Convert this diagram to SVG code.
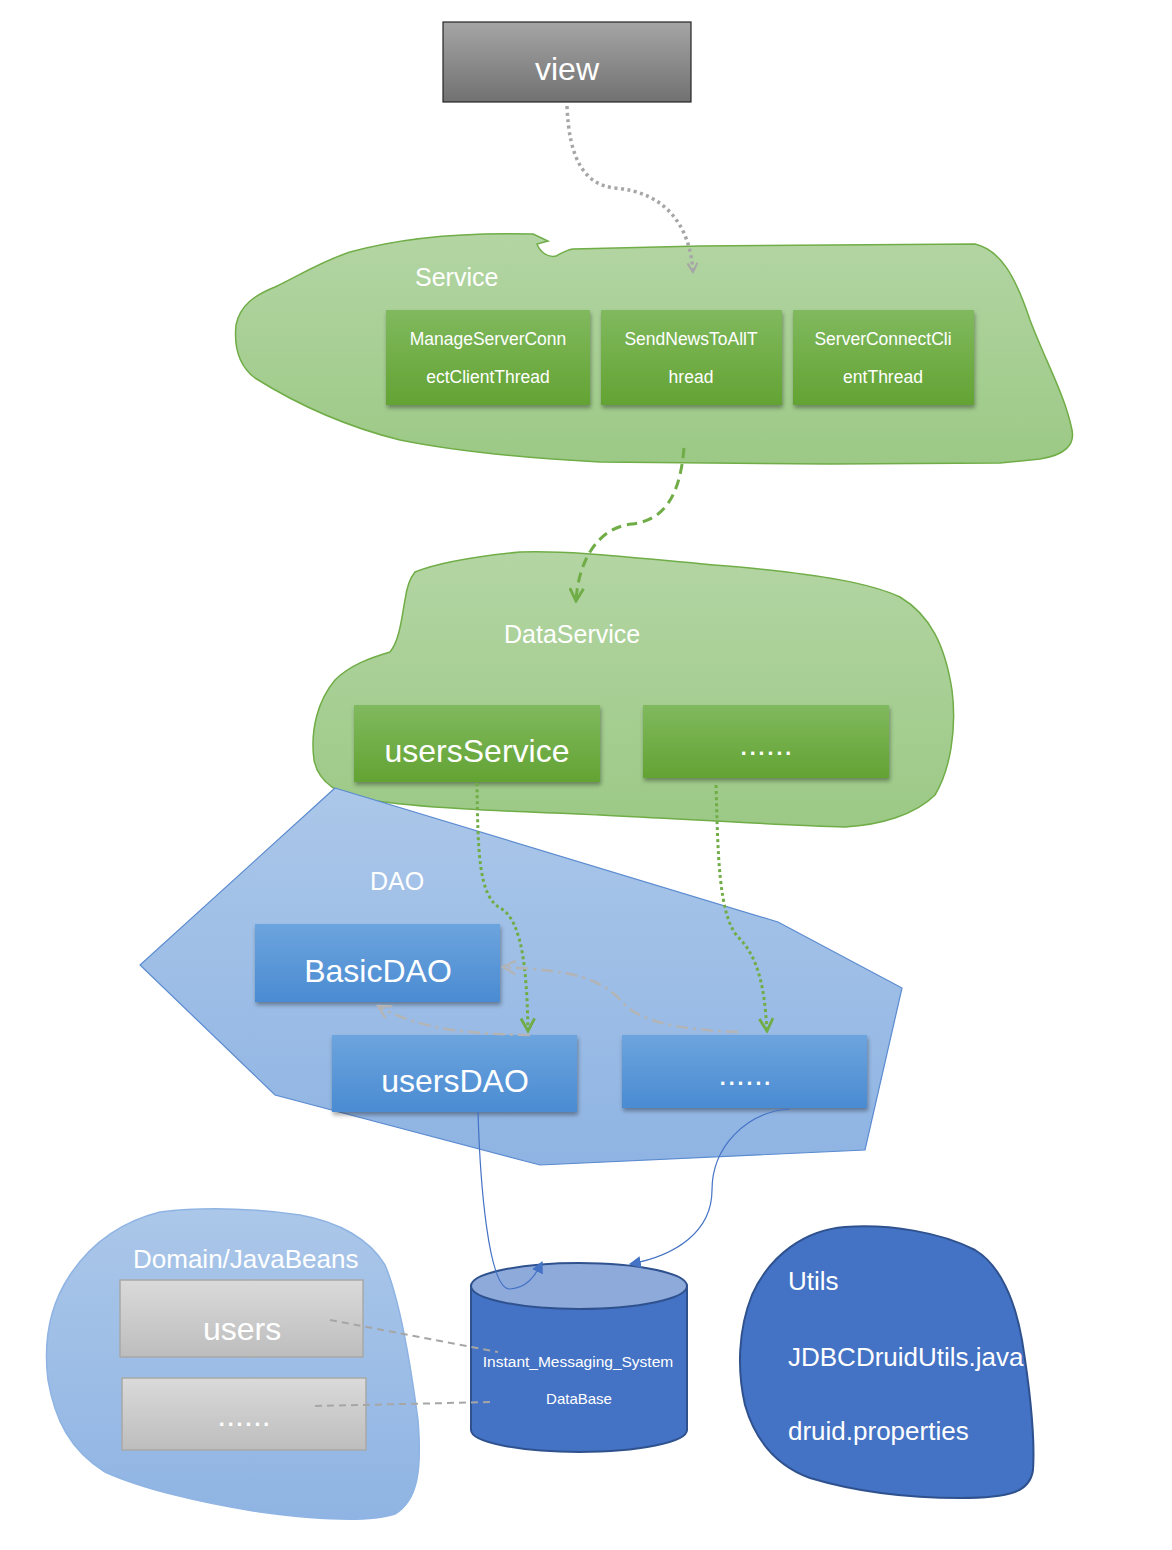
<svg xmlns="http://www.w3.org/2000/svg" width="1172" height="1550" viewBox="0 0 1172 1550">
<defs>
<linearGradient id="gGreen" x1="0" y1="0" x2="0" y2="1"><stop offset="0" stop-color="#80b95e"/><stop offset="1" stop-color="#63a333"/></linearGradient>
<linearGradient id="gBlue" x1="0" y1="0" x2="0" y2="1"><stop offset="0" stop-color="#6ca4de"/><stop offset="1" stop-color="#4a8bd2"/></linearGradient>
<linearGradient id="gGray" x1="0" y1="0" x2="0" y2="1"><stop offset="0" stop-color="#dadada"/><stop offset="1" stop-color="#bdbdbd"/></linearGradient>
<linearGradient id="gView" x1="0" y1="0" x2="0" y2="1"><stop offset="0" stop-color="#a5a5a5"/><stop offset="1" stop-color="#717171"/></linearGradient>
<linearGradient id="gBlobG" x1="0" y1="0" x2="0" y2="1"><stop offset="0" stop-color="#b3d5a3"/><stop offset="1" stop-color="#9cc986"/></linearGradient>
<linearGradient id="gBlobB" x1="0" y1="0" x2="0" y2="1"><stop offset="0" stop-color="#abc7e9"/><stop offset="1" stop-color="#8fb4e3"/></linearGradient>
<filter id="sh" x="-10%" y="-10%" width="130%" height="140%"><feDropShadow dx="1" dy="3" stdDeviation="2" flood-color="#000" flood-opacity="0.35"/></filter>
<marker id="mGray" viewBox="0 0 12 12" refX="10" refY="6" markerWidth="12" markerHeight="12" markerUnits="userSpaceOnUse" orient="auto"><path d="M1,1 L10,6 L1,11" fill="none" stroke="#a6a6a6" stroke-width="2"/></marker>
<marker id="mGreen" viewBox="0 0 14 14" refX="12" refY="7" markerWidth="16" markerHeight="16" markerUnits="userSpaceOnUse" orient="auto"><path d="M1,1 L12,7 L1,13" fill="none" stroke="#70ad47" stroke-width="2.5"/></marker>
<marker id="mLGray" viewBox="0 0 14 14" refX="12" refY="7" markerWidth="16" markerHeight="16" markerUnits="userSpaceOnUse" orient="auto"><path d="M1,1 L12,7 L1,13" fill="none" stroke="#b4b4b4" stroke-width="2"/></marker>
<marker id="mBlue" viewBox="0 0 10 10" refX="9" refY="5" markerWidth="12" markerHeight="12" markerUnits="userSpaceOnUse" orient="auto"><path d="M0,0 L10,5 L0,10 z" fill="#4472c4"/></marker>
</defs>
<style>
text{font-family:"Liberation Sans",Arial,sans-serif;fill:#fff;text-anchor:middle}
.lab{font-size:25px;text-anchor:start}
.lab2{font-size:26px;text-anchor:start}
.big{font-size:32px}
.sm{font-size:17.5px}
.gbox{fill:url(#gGreen);filter:url(#sh)}
.bbox{fill:url(#gBlue);filter:url(#sh)}
.grbox{fill:url(#gGray);stroke:#a8a8a8;stroke-width:1.5}
</style>
<rect width="1172" height="1550" fill="#fff"/>

<g id="service-group">
<path d="M533,234 L548,241 L537,244 C540,252 548,258 556,256 C562,253 566,250 573,249 L700,246 L975,244 C1000,250 1015,275 1030,320 C1045,360 1065,395 1072,430 C1075,445 1065,455 1040,459 L1000,463 L830,464 L600,462 C520,458 450,450 400,440 C340,425 290,400 255,378 C238,365 234,345 236,325 C240,305 255,295 275,287 C300,275 320,262 350,252 C400,238 460,232 533,234 Z" fill="url(#gBlobG)" stroke="#70ad47" stroke-width="1.5"/>
<text class="lab" x="415" y="286">Service</text>
</g>

<g id="dataservice-group">
<path d="M415,572 C440,562 480,556 520,552 C580,550 650,560 750,568 C820,575 870,583 900,597 C930,615 945,645 952,690 C957,730 950,770 935,795 C915,815 880,825 845,827 C780,825 700,820 600,815 C500,811 420,808 370,800 C335,795 318,780 314,760 C310,730 318,700 335,680 C350,665 370,658 390,652 C400,640 402,615 405,600 C407,585 410,578 415,572 Z" fill="url(#gBlobG)" stroke="#70ad47" stroke-width="1.5"/>
<text class="lab" x="504" y="643">DataService</text>
</g>

<g id="dao-group">
<polygon points="335,788 778,922 902,988 865,1150 540,1165 275,1095 140,965" fill="url(#gBlobB)" stroke="#5b8bd0" stroke-width="1.2"/>
<text class="lab" x="370" y="890">DAO</text>
</g>

<g id="domain-group">
<path d="M160,1212 C200,1207 250,1208 300,1215 C340,1222 370,1240 385,1265 C400,1300 410,1360 418,1420 C422,1470 418,1500 395,1514 C370,1522 320,1520 260,1512 C200,1503 140,1488 105,1472 C70,1450 55,1420 48,1380 C43,1340 50,1305 70,1275 C90,1245 120,1222 160,1212 Z" fill="url(#gBlobB)" stroke="#8fb4e3" stroke-width="1.5"/>
<text class="lab2" x="133" y="1268">Domain/JavaBeans</text>
</g>

<g id="utils-group">
<path d="M845,1227 C890,1224 940,1232 975,1250 C1000,1265 1015,1300 1022,1340 C1030,1390 1035,1440 1033,1470 C1030,1492 1010,1498 960,1498 C900,1498 850,1490 810,1478 C775,1465 755,1440 745,1405 C737,1370 738,1330 752,1295 C770,1255 805,1230 845,1227 Z" fill="#4472c4" stroke="#2f528f" stroke-width="2"/>
<text class="lab2" x="788" y="1290">Utils</text>
<text class="lab2" x="788" y="1366">JDBCDruidUtils.java</text>
<text class="lab2" x="788" y="1440">druid.properties</text>
</g>

<g id="view">
<rect x="443" y="22" width="248" height="80" fill="url(#gView)" stroke="#262626" stroke-width="1.2"/>
<text class="big" x="567" y="80">view</text>
</g>

<g id="manageServerConnectClientThread">
<rect class="gbox" x="386" y="310" width="204" height="95"/>
<text class="sm" x="488" y="345">ManageServerConn</text>
<text class="sm" x="488" y="383">ectClientThread</text>
</g>
<g id="sendNewsToAllThread">
<rect class="gbox" x="601" y="310" width="181" height="95"/>
<text class="sm" x="691" y="345">SendNewsToAllT</text>
<text class="sm" x="691" y="383">hread</text>
</g>
<g id="serverConnectClientThread">
<rect class="gbox" x="793" y="310" width="181" height="95"/>
<text class="sm" x="883" y="345">ServerConnectCli</text>
<text class="sm" x="883" y="383">entThread</text>
</g>

<g id="usersService">
<rect class="gbox" x="354" y="705" width="246" height="77"/>
<text class="big" x="477" y="762">usersService</text>
</g>
<g id="otherService">
<rect class="gbox" x="643" y="705" width="246" height="73"/>
<text class="big" x="766" y="755">......</text>
</g>

<g id="basicDAO">
<rect class="bbox" x="255" y="924" width="245" height="78"/>
<text class="big" x="378" y="982">BasicDAO</text>
</g>
<g id="usersDAO">
<rect class="bbox" x="332" y="1035" width="245" height="77"/>
<text class="big" x="455" y="1092">usersDAO</text>
</g>
<g id="otherDAO">
<rect class="bbox" x="622" y="1035" width="245" height="73"/>
<text class="big" x="745" y="1085">......</text>
</g>

<g id="users">
<rect class="grbox" x="120" y="1280" width="243" height="77"/>
<text class="big" x="242" y="1340">users</text>
</g>
<g id="otherBean">
<rect class="grbox" x="122" y="1378" width="244" height="72"/>
<text class="big" x="244" y="1426">......</text>
</g>

<g id="database">
<path d="M471,1286 L471,1430 A108,22 0 0 0 687,1430 L687,1286 Z" fill="#4472c4" stroke="#2f528f" stroke-width="2"/>
<ellipse cx="579" cy="1286" rx="108" ry="23" fill="#8eaadb" stroke="#2f528f" stroke-width="2"/>
<text x="578" y="1367" style="font-size:15.5px">Instant_Messaging_System</text>
<text x="579" y="1404" style="font-size:15px">DataBase</text>
</g>

<g id="connectors" fill="none">
<path d="M567,106 C569,160 585,185 615,188 C665,192 690,225 693,272" stroke="#a6a6a6" stroke-width="3.5" stroke-dasharray="3,3.5" marker-end="url(#mGray)"/>
<path d="M684,448 C680,495 665,520 632,524 C595,528 578,565 576,601" stroke="#70ad47" stroke-width="3" stroke-dasharray="10,6" marker-end="url(#mGreen)"/>
<path d="M477,783 C478,850 478,895 500,908 C524,920 527,980 528,1031" stroke="#70ad47" stroke-width="3" stroke-dasharray="3,3" marker-end="url(#mGreen)"/>
<path d="M716,785 C718,850 718,915 738,937 C762,960 765,1000 767,1031" stroke="#70ad47" stroke-width="3" stroke-dasharray="3,3" marker-end="url(#mGreen)"/>
<path d="M530,1035 C470,1034 420,1030 378,1006" stroke="#b4b4b4" stroke-width="2.5" stroke-dasharray="12,5,3,5" marker-end="url(#mLGray)"/>
<path d="M738,1032 C680,1030 640,1022 622,1002 C602,978 570,970 503,967" stroke="#b4b4b4" stroke-width="2.5" stroke-dasharray="12,5,3,5" marker-end="url(#mLGray)"/>
<path d="M478,1112 C480,1180 488,1290 510,1289 C526,1288 535,1277 542,1262" stroke="#4472c4" stroke-width="1.2" marker-end="url(#mBlue)"/>
<path d="M790,1109 C745,1112 712,1148 712,1190 C712,1232 675,1256 630,1264" stroke="#4472c4" stroke-width="1.2" marker-end="url(#mBlue)"/>
<path d="M330,1320 L498,1352" stroke="#a6a6a6" stroke-width="2" stroke-dasharray="7,5"/>
<path d="M315,1406 L492,1402" stroke="#a6a6a6" stroke-width="2" stroke-dasharray="7,5"/>
</g>
</svg>
